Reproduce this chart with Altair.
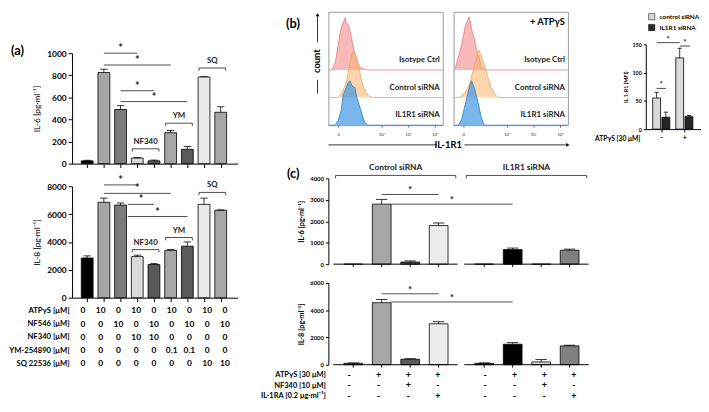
import altair as alt
import pandas as pd

FONT = "Lato"

# ---------------- panel (a) data ----------------
a_pos = [0, 1, 2, 3, 4, 5, 6, 7, 8]
a_il6 = [25, 825, 490, 50, 25, 280, 130, 785, 465]
a_il6_err = [30, 855, 525, 55, 32, 300, 155, 788, 515]
a_il8 = [2850, 6850, 6650, 2950, 2380, 3400, 3700, 6700, 6280]
a_il8_err = [3000, 7150, 6800, 3050, 2450, 3450, 4000, 7150, 6300]
a_fill = ["#000000", "#a6a6a6", "#7a7a7a", "#d9d9d9", "#595959",
          "#a6a6a6", "#595959", "#e8e8e8", "#a6a6a6"]
a_rows = ["ATPγS [μM]", "NF546 [μM]", "NF340 [μM]", "YM-254890 [μM]", "SQ 22536 [μM]"]
a_table = [
    ["0", "10", "0", "10", "0", "10", "0", "10", "0"],
    ["0", "0", "10", "0", "10", "0", "10", "0", "10"],
    ["0", "0", "0", "10", "10", "0", "0", "0", "0"],
    ["0", "0", "0", "0", "0", "0.1", "0.1", "0", "0"],
    ["0", "0", "0", "0", "0", "0", "0", "10", "10"],
]
a_il6_sig_x1 = [1, 1, 2, 2]
a_il6_sig_x2 = [3, 5, 4, 6]
a_il6_sig_y = [1000, 893, 660, 562]
a_il8_sig_x1 = [1, 1, 2.44, 2.44]
a_il8_sig_x2 = [3, 5, 4, 6]
a_il8_sig_y = [8100, 7490, 6700, 5830]
a_grp = ["NF340", "YM", "SQ"]
a_grp_x1 = [2.7, 4.7, 6.7]
a_grp_x2 = [4.3, 6.3, 8.3]
a_il6_grp_y = [134, 366, 866]
a_il8_grp_y = [3450, 4320, 7560]

# ---------------- panel (b) data ----------------
h_labels = ["Isotype Ctrl", "Control siRNA", "IL1R1 siRNA"]
h1_iso_u = [1.00, 1.15, 1.26, 1.37, 1.44, 1.52, 1.59, 1.63, 1.67, 1.74, 1.81, 1.89, 1.96, 2.04, 2.11, 2.19, 2.33, 2.48, 5.30]
h1_iso_n = [0, 0, 8, 25, 38, 46, 50, 53, 48, 46, 40, 30, 20, 12, 6, 3, 1, 0, 0]
h1_ctl_u = [1.00, 1.37, 1.52, 1.67, 1.78, 1.85, 1.93, 2.00, 2.07, 2.15, 2.22, 2.33, 2.44, 2.56, 2.67, 5.30]
h1_ctl_n = [0, 0, 5, 15, 30, 40, 47, 44, 40, 30, 20, 10, 4, 1, 0, 0]
h1_il1_u = [1.00, 1.26, 1.37, 1.48, 1.56, 1.67, 1.74, 1.81, 1.89, 2.00, 2.07, 2.19, 2.30, 2.37, 2.48, 5.30]
h1_il1_n = [0, 0, 5, 15, 31, 38, 43, 45, 40, 38, 28, 18, 8, 3, 0, 0]
h2_iso_u = [1.00, 1.04, 1.15, 1.30, 1.44, 1.52, 1.59, 1.67, 1.78, 1.85, 1.93, 2.04, 2.15, 5.30]
h2_iso_n = [0, 0, 10, 25, 45, 50, 54, 42, 32, 22, 15, 4, 0, 0]
h2_ctl_u = [1.00, 1.22, 1.44, 1.59, 1.78, 1.89, 1.96, 2.07, 2.22, 2.41, 2.56, 2.67, 5.30]
h2_ctl_n = [0, 0, 5, 13, 32, 42, 48, 40, 27, 10, 3, 0, 0]
h2_il1_u = [1.00, 1.19, 1.30, 1.41, 1.56, 1.67, 1.78, 1.93, 2.04, 2.15, 5.30]
h2_il1_n = [0, 0, 6, 18, 35, 45, 38, 22, 8, 0, 0]
h_ticks = [1.37, 3, 4, 5]

b3_names = ["control siRNA", "IL1R1 siRNA"]
b3_groups = [0, 0, 1, 1]
b3_series = ["control siRNA", "IL1R1 siRNA", "control siRNA", "IL1R1 siRNA"]
b3_val = [55, 21, 126, 22]
b3_err = [65, 30, 143, 24]
b3_sig_x1 = [-0.2, 0.8, -0.2]
b3_sig_x2 = [0.8, 1.25, 0.2]
b3_sig_y = [153, 147, 72]

# ---------------- panel (c) data ----------------
c_pos = [0, 1, 2, 3]
c6_ctl = [0, 2800, 100, 1800]
c6_ctl_err = [0, 3020, 150, 1920]
c6_il1 = [0, 680, 0, 650]
c6_il1_err = [0, 750, 0, 700]
c8_ctl = [100, 4550, 400, 3000]
c8_ctl_err = [130, 4780, 440, 3150]
c8_il1 = [100, 1500, 200, 1380]
c8_il1_err = [130, 1620, 380, 1430]
c_ctl_fill = ["#595959", "#a6a6a6", "#595959", "#ebebeb"]
c_il1_fill = ["#404040", "#000000", "#d9d9d9", "#808080"]
c_groups = ["Control siRNA", "IL1R1 siRNA"]
c6_sig_x1 = [1, 1.33]
c6_sig_x2 = [3, 5.6]
c6_sig_y = [3250, 2800]
c8_sig_x1 = [1, 1.33]
c8_sig_x2 = [3, 5.6]
c8_sig_y = [5200, 4600]
c_rows = ["ATPγS [30 μM]", "NF340 [10 μM]", "IL-1RA [0.2 μg·ml⁻¹]"]
c_table = [["-", "+", "+", "+"], ["-", "-", "+", "-"], ["-", "-", "-", "+"]]

# layout offset of the second (IL1R1 siRNA) group on the shared x scale of panel (c)
C_OFF = 4.6
C_XDOM = [-0.7, 8.267]
C_SEG_X1 = [-0.7, 3.9]
C_SEG_X2 = [3.667, 8.267]


# ---------------- helpers ----------------
def lin(domain, rng=None):
    if rng is None:
        return alt.Scale(domain=domain, nice=False, zero=False)
    return alt.Scale(domain=domain, range=rng, nice=False, zero=False)


def XY(xs, ys, xa, ya, xf, yf):
    return dict(x=alt.X(xf, scale=xs, axis=xa), y=alt.Y(yf, scale=ys, axis=ya))


def bars_block(pos, vals, errs, fills, xs, ys, xa, ya, bar_w, cap_half):
    df = pd.DataFrame({"pos": pos, "val": vals, "err": errs, "fill": fills})
    base = alt.Chart(df)
    bars = base.mark_bar(width=bar_w, stroke="black", strokeWidth=0.8).encode(
        **XY(xs, ys, xa, ya, "pos:Q", "val:Q"), fill=alt.Fill("fill:N", scale=None))
    e = base.transform_filter("datum.err > datum.val")
    stem = e.mark_rule(color="black", strokeWidth=0.8).encode(
        **XY(xs, ys, xa, ya, "pos:Q", "val:Q"), y2="err:Q")
    cap = e.transform_calculate(
        xa=f"datum.pos - {cap_half}", xb=f"datum.pos + {cap_half}"
    ).mark_rule(color="black", strokeWidth=0.8).encode(
        **XY(xs, ys, xa, ya, "xa:Q", "err:Q"), x2="xb:Q")
    return [bars, stem, cap]


def sig_block(x1, x2, y, xs, ys, xa, ya, size=10, dy=-4):
    df = pd.DataFrame({"x1": x1, "x2": x2, "y": y})
    base = alt.Chart(df)
    line = base.mark_rule(color="#3a3a3a", strokeWidth=0.9).encode(
        **XY(xs, ys, xa, ya, "x1:Q", "y:Q"), x2="x2:Q")
    star = base.transform_calculate(xm="(datum.x1 + datum.x2) / 2").mark_text(
        text="*", fontSize=size, fontWeight="bold", dy=dy, color="#222").encode(
        **XY(xs, ys, xa, ya, "xm:Q", "y:Q"))
    return [line, star]


def bracket_block(labels, x1, x2, y, drop, xs, ys, xa, ya, fsize, dy):
    df = pd.DataFrame({"lab": labels, "x1": x1, "x2": x2, "y": y})
    base = alt.Chart(df).transform_calculate(
        yd=f"datum.y - {drop}", xm="(datum.x1 + datum.x2) / 2")
    h = base.mark_rule(color="#3a3a3a", strokeWidth=0.9).encode(
        **XY(xs, ys, xa, ya, "x1:Q", "y:Q"), x2="x2:Q")
    l = base.mark_rule(color="#3a3a3a", strokeWidth=0.9).encode(
        **XY(xs, ys, xa, ya, "x1:Q", "y:Q"), y2="yd:Q")
    r = base.mark_rule(color="#3a3a3a", strokeWidth=0.9).encode(
        **XY(xs, ys, xa, ya, "x2:Q", "y:Q"), y2="yd:Q")
    t = base.mark_text(fontSize=fsize, fontWeight="bold", dy=dy, color="#222").encode(
        **XY(xs, ys, xa, ya, "xm:Q", "y:Q"), text="lab:N")
    return [h, l, r, t]


def label_text(txt, x, y, size=13, align="left", angle=0, weight="bold", color="black"):
    return alt.Chart(pd.DataFrame({"t": [txt]})).mark_text(
        align=align, fontSize=size, fontWeight=weight, angle=angle, baseline="middle",
        color=color).encode(x=alt.value(x), y=alt.value(y), text="t:N")


def rule_px(x, x2, y, y2):
    return alt.Chart(pd.DataFrame({"t": [0]})).mark_rule(color="black", strokeWidth=0.8).encode(
        x=alt.value(x), x2=alt.value(x2), y=alt.value(y), y2=alt.value(y2))


def arrow_head(x, y, shape):
    return alt.Chart(pd.DataFrame({"t": [0]})).mark_point(
        shape=shape, filled=True, size=14, color="black", opacity=1).encode(
        x=alt.value(x), y=alt.value(y))


def anchor(x, y):
    # tiny white dot that fixes the extent of a composed block
    return alt.Chart(pd.DataFrame({"t": [0]})).mark_point(
        shape="square", filled=True, size=1, color="white", opacity=1).encode(
        x=alt.value(x), y=alt.value(y))


def spacer(w, h):
    return alt.Chart(pd.DataFrame({"t": [""]})).mark_text().encode(
        text="t:N").properties(width=w, height=h)


def table_layer(rows, table, pos, xs, fsize, lsize, show_labels=True):
    recs = []
    for i, r in enumerate(rows):
        for j, p in enumerate(pos):
            recs.append({"row": r, "pos": p, "txt": table[i][j]})
    df = pd.DataFrame(recs)
    yaxis = alt.Axis(title=None, domain=False, ticks=False, labelPadding=3,
                     labelFontSize=lsize, labelFontWeight="bold", labelColor="black") if show_labels else None
    return alt.Chart(df).mark_text(fontSize=fsize, fontWeight="bold", color="black").encode(
        x=alt.X("pos:Q", scale=xs, axis=None),
        y=alt.Y("row:N", sort=rows, axis=yaxis),
        text="txt:N",
    )


# ---------------- panel (a) ----------------
a_xs = lin([-0.611, 8.722])
a6_ys = lin([0, 1000])
a8_ys = lin([0, 8000])
a_xaxis = alt.Axis(values=a_pos, labels=False, title=None, tickSize=4)


def a_yaxis(vals, title):
    return alt.Axis(values=vals, title=title, format="d", tickSize=4, labelFontSize=8.5,
                    labelPadding=2, titleFontSize=8.5, titleFontWeight="normal", titlePadding=5)


a6_yaxis = a_yaxis([0, 200, 400, 600, 800, 1000], "IL-6 [pg·ml⁻¹]")
a8_yaxis = a_yaxis([0, 2000, 4000, 6000, 8000], "IL-8 [pg·ml⁻¹]")

A1 = alt.layer(
    *bars_block(a_pos, a_il6, a_il6_err, a_fill, a_xs, a6_ys, a_xaxis, a6_yaxis, 12, 0.22),
    *sig_block(a_il6_sig_x1, a_il6_sig_x2, a_il6_sig_y, a_xs, a6_ys, a_xaxis, a6_yaxis, size=11),
    *bracket_block(a_grp, a_grp_x1, a_grp_x2, a_il6_grp_y, 25, a_xs, a6_ys, a_xaxis, a6_yaxis, 8, -7),
    label_text("(a)", -62, -2),
).properties(width=168, height=112)

A2 = alt.layer(
    *bars_block(a_pos, a_il8, a_il8_err, a_fill, a_xs, a8_ys, a_xaxis, a8_yaxis, 12, 0.22),
    *sig_block(a_il8_sig_x1, a_il8_sig_x2, a_il8_sig_y, a_xs, a8_ys, a_xaxis, a8_yaxis, size=11),
    *bracket_block(a_grp, a_grp_x1, a_grp_x2, a_il8_grp_y, 200, a_xs, a8_ys, a_xaxis, a8_yaxis, 8, -7),
).properties(width=168, height=113)

A3 = table_layer(a_rows, a_table, a_pos, a_xs, 8.5, 7.8).properties(width=168, height=67.5)

# ---------------- panel (b) ----------------
h_xs = lin([1.0, 5.3])
h_ys = lin([0, 115])
h_base = {"Isotype Ctrl": 56, "Control siRNA": 28, "IL1R1 siRNA": 0}
h_fill = {"Isotype Ctrl": "#f28b8b", "Control siRNA": "#f7b36b", "IL1R1 siRNA": "#3f97e3"}
h_line = {"Isotype Ctrl": "#ec7a7a", "Control siRNA": "#f0a455", "IL1R1 siRNA": "#2a80d2"}
h_op = {"Isotype Ctrl": 0.6, "Control siRNA": 0.55, "IL1R1 siRNA": 0.7}
h_xaxis = alt.Axis(values=h_ticks, title=None, domain=False, tickSize=2, tickColor="#666",
                   labelFontSize=4.5, labelFontWeight="normal", labelColor="#333", labelPadding=4,
                   labelExpr="datum.value < 2 ? '0' : datum.value < 3.5 ? '10³' : datum.value < 4.5 ? '10⁴' : '10⁵'")


def hist_layers(curves):
    layers = []
    for name, us, ns in curves:
        b = h_base[name]
        df = pd.DataFrame({"u": us, "n": ns})
        df["y"] = df["n"] + b
        df["base"] = b
        layers.append(alt.Chart(df).mark_area(color=h_fill[name], opacity=h_op[name]).encode(
            **XY(h_xs, h_ys, h_xaxis, None, "u:Q", "y:Q"), y2="base:Q"))
        layers.append(alt.Chart(df).mark_line(color=h_line[name], strokeWidth=0.8).encode(
            **XY(h_xs, h_ys, h_xaxis, None, "u:Q", "y:Q")))
    ldf = pd.DataFrame({"lab": h_labels, "u": [5.19] * 3,
                        "y": [h_base[n] + 10 for n in h_labels]})
    layers.append(alt.Chart(ldf).mark_text(align="right", fontSize=8, fontWeight="bold",
                                           color="#222").encode(
        **XY(h_xs, h_ys, h_xaxis, None, "u:Q", "y:Q"), text="lab:N"))
    return layers


box_view = alt.ViewBackground(stroke="#9a9a9a", strokeWidth=1)

H1 = alt.layer(
    *hist_layers([("Isotype Ctrl", h1_iso_u, h1_iso_n), ("Control siRNA", h1_ctl_u, h1_ctl_n),
                  ("IL1R1 siRNA", h1_il1_u, h1_il1_n)]),
    rule_px(-11, -11, 3, 31), rule_px(-11, -11, 69, 83), arrow_head(-11, 3, "triangle-up"),
    label_text("count", -11, 50, size=9.5, align="center", angle=270),
    label_text("(b)", -43, 12),
    rule_px(0, 110, 135, 135),
    label_text("IL-1R1", 121.5, 135, size=9.5, align="center"),
    anchor(-80, 145),
).properties(width=116, height=115, view=box_view)

H2 = alt.layer(
    *hist_layers([("Isotype Ctrl", h2_iso_u, h2_iso_n), ("Control siRNA", h2_ctl_u, h2_ctl_n),
                  ("IL1R1 siRNA", h2_il1_u, h2_il1_n)]),
    label_text("+ ATPγS", 113, 10, size=9.5, align="right"),
    rule_px(11, 115, 135, 135), arrow_head(116, 135, "triangle-right"),
).properties(width=116, height=115, view=box_view)

b3_off = {"control siRNA": -0.2, "IL1R1 siRNA": 0.2}
b3_color = {"control siRNA": "#d9d9d9", "IL1R1 siRNA": "#262626"}
b3_df = pd.DataFrame({"g": b3_groups, "series": b3_series, "val": b3_val, "err": b3_err})
b3_df["pos"] = b3_df["g"] + b3_df["series"].map(b3_off)
b3_df["fill"] = b3_df["series"].map(b3_color)
b3_xs = lin([-0.456, 1.509])
b3_ys = lin([0, 150], [119, 33])
b3_xaxis = alt.Axis(values=[0, 1], labelExpr="datum.value == 0 ? '-' : '+'", tickSize=3,
                    labelFontSize=8, labelPadding=2, title="ATPγS [30 μM]", titleX=-6, titleY=10,
                    titleAlign="right", titleBaseline="middle", titleFontSize=6.8,
                    titleFontWeight="bold")
b3_yaxis = alt.Axis(values=[0, 50, 100, 150], tickSize=2.5, labelFontSize=5.5, labelPadding=2,
                    title="IL 1-R1 (MFI)", titleFontSize=5.5, titleFontWeight="bold", titlePadding=3)
b3_layers = bars_block(list(b3_df["pos"]), b3_val, b3_err, list(b3_df["fill"]),
                       b3_xs, b3_ys, b3_xaxis, b3_yaxis, 8, 0.09)
b3_leg = []
for i, nm in enumerate(b3_names):
    b3_leg.append(alt.Chart(pd.DataFrame({"t": [nm]})).mark_square(
        size=40, stroke="black", strokeWidth=0.5, fill=b3_color[nm], opacity=1).encode(
        x=alt.value(6), y=alt.value(5 + 11 * i)))
    b3_leg.append(label_text(nm, 14, 5 + 11 * i, size=6.5))
B3 = alt.layer(*b3_layers,
               *sig_block(b3_sig_x1, b3_sig_x2, b3_sig_y, b3_xs, b3_ys, b3_xaxis, b3_yaxis, size=8, dy=-3),
               *b3_leg).properties(width=56, height=119)

# ---------------- panel (c) ----------------
c_xs = lin(C_XDOM)
c6_ys = lin([0, 4000])
c8_ys = lin([0, 6000])
c_upos = [p for p in c_pos] + [p + C_OFF for p in c_pos]


def c_yaxis(vals, title):
    return alt.Axis(values=vals, title=title, format="d", tickSize=3, labelFontSize=6,
                    labelPadding=2, titleFontSize=7.5, titleFontWeight="bold", titlePadding=4)


c6_yaxis = c_yaxis([0, 1000, 2000, 3000, 4000], "IL-6 [pg·ml⁻¹]")
c8_yaxis = c_yaxis([0, 2000, 4000, 6000], "IL-8 [pg·ml⁻¹]")


def c_axis_layers(ys, ya, drop):
    seg = pd.DataFrame({"x1": C_SEG_X1, "x2": C_SEG_X2, "y": [0, 0]})
    dom = alt.Chart(seg).mark_rule(color="black", strokeWidth=1).encode(
        **XY(c_xs, ys, None, ya, "x1:Q", "y:Q"), x2="x2:Q")
    tk = pd.DataFrame({"x": c_upos, "y": [0] * len(c_upos), "y2": [-drop] * len(c_upos)})
    ticks = alt.Chart(tk).mark_rule(color="black", strokeWidth=1).encode(
        **XY(c_xs, ys, None, ya, "x:Q", "y:Q"), y2="y2:Q")
    return [dom, ticks]


C6 = alt.layer(
    *bars_block(c_upos, c6_ctl + c6_il1, c6_ctl_err + c6_il1_err, c_ctl_fill + c_il1_fill,
                c_xs, c6_ys, None, c6_yaxis, 19, 0.2),
    *c_axis_layers(c6_ys, c6_yaxis, 138),
    *sig_block(c6_sig_x1, c6_sig_x2, c6_sig_y, c_xs, c6_ys, None, c6_yaxis, size=10),
    *bracket_block(c_groups, [-0.62, 3.97], [3.6, 8.2], [4138, 4138], 138, c_xs, c6_ys,
                   None, c6_yaxis, 8.5, -9),
    label_text("(c)", -42, -4),
    anchor(-80, -22),
).properties(width=269, height=87)

C8 = alt.layer(
    *bars_block(c_upos, c8_ctl + c8_il1, c8_ctl_err + c8_il1_err, c_ctl_fill + c_il1_fill,
                c_xs, c8_ys, None, c8_yaxis, 19, 0.2),
    *c_axis_layers(c8_ys, c8_yaxis, 217),
    *sig_block(c8_sig_x1, c8_sig_x2, c8_sig_y, c_xs, c8_ys, None, c8_yaxis, size=10),
).properties(width=269, height=83)

ct_recs = []
for i, r in enumerate(c_rows):
    for j, p in enumerate(c_pos):
        ct_recs.append({"row": r, "pos": p + C_OFF, "txt": c_table[i][j]})
Ct2 = alt.Chart(pd.DataFrame(ct_recs)).mark_text(fontSize=9, fontWeight="bold", color="black").encode(
    x=alt.X("pos:Q", scale=c_xs, axis=None),
    y=alt.Y("row:N", sort=c_rows, axis=alt.Axis(title=None, domain=False, ticks=False, labelPadding=3,
                                                 labelFontSize=7.6, labelFontWeight="bold")),
    text="txt:N")
Ct = alt.layer(table_layer(c_rows, c_table, c_pos, c_xs, 9, 7.6), Ct2).properties(width=269, height=32)

# ---------------- layout ----------------
colA = alt.vconcat(spacer(168, 36), A1, spacer(168, 11), A2, A3, spacing=6, bounds="flush")
rowB = alt.hconcat(H1, H2, spacer(57, 119), B3, spacing=11, bounds="flush")
rowC = alt.vconcat(C6, spacer(269, 9), C8, Ct, spacing=5, bounds="flush")
colB = alt.vconcat(rowB, rowC, spacing=0)

chart = alt.hconcat(colA, colB, spacing=11, padding=0).configure(
    font=FONT
).configure_view(stroke=None).configure_axis(
    grid=False, domainColor="black", tickColor="black", labelColor="black", titleColor="black",
    labelFont=FONT, titleFont=FONT, labelFontWeight="bold", domainWidth=1, tickWidth=1
).configure_text(font=FONT)

chart.save("out.html", embed_options={"renderer": "svg", "actions": False})
